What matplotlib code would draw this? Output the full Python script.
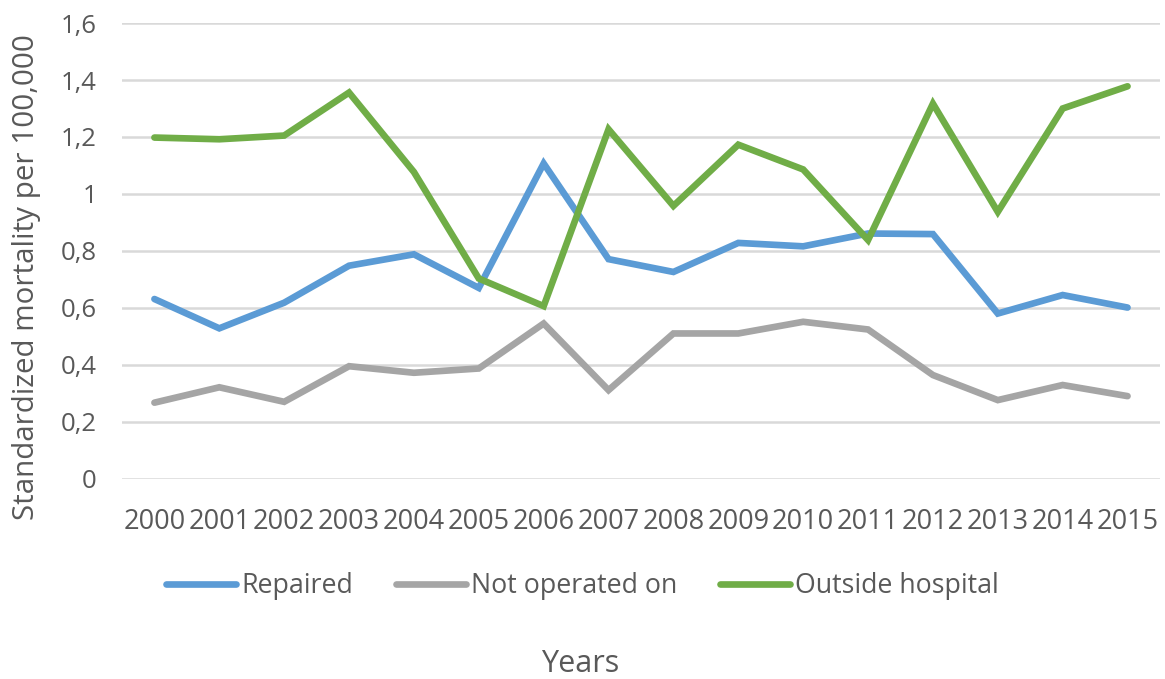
import matplotlib
matplotlib.use("Agg")
import matplotlib.pyplot as plt

# data
years = [str(y) for y in range(2000, 2016)]
repaired = [0.631, 0.528, 0.618, 0.748, 0.788, 0.670, 1.107, 0.771,
            0.726, 0.828, 0.816, 0.861, 0.859, 0.580, 0.645, 0.601]
not_operated = [0.267, 0.321, 0.270, 0.395, 0.372, 0.387, 0.545, 0.311,
                0.510, 0.510, 0.551, 0.524, 0.364, 0.276, 0.329, 0.290]
outside_hospital = [1.198, 1.192, 1.205, 1.356, 1.077, 0.703, 0.606, 1.227,
                    0.958, 1.173, 1.086, 0.838, 1.317, 0.937, 1.300, 1.378]
y_ticks = [0, 0.2, 0.4, 0.6, 0.8, 1.0, 1.2, 1.4, 1.6]
y_tick_labels = ["0", "0,2", "0,4", "0,6", "0,8", "1", "1,2", "1,4", "1,6"]

plt.rcParams["font.family"] = ["Open Sans", "DejaVu Sans"]
text_color = "#595959"

fig = plt.figure(figsize=(11.65, 6.79), dpi=100)
ax = fig.add_axes([0.1047, 0.295, 0.891, 0.671])

x = range(len(years))
ax.plot(x, repaired, color="#5B9BD5", lw=4.8, label="Repaired",
        solid_capstyle="round", solid_joinstyle="miter")
ax.plot(x, not_operated, color="#A5A5A5", lw=4.8, label="Not operated on",
        solid_capstyle="round", solid_joinstyle="miter")
ax.plot(x, outside_hospital, color="#70AD47", lw=4.8, label="Outside hospital",
        solid_capstyle="round", solid_joinstyle="miter")

ax.set_xlim(-0.5, len(years) - 0.5)
ax.set_ylim(0, 1.6)
ax.set_xticks(list(x))
ax.set_xticklabels(years)
ax.set_yticks(y_ticks)
ax.set_yticklabels(y_tick_labels)
ax.tick_params(axis="x", length=0, pad=21, labelsize=19.5, colors=text_color)
ax.tick_params(axis="y", length=0, pad=18, labelsize=18.5, colors=text_color)
ax.grid(axis="y", color="#D9D9D9", lw=1.8)
ax.set_axisbelow(True)
for s in ax.spines.values():
    s.set_visible(False)

fig.text(0.023, 0.592, "Standardized mortality per 100,000", rotation=90,
         ha="center", va="center", fontsize=21.3, color=text_color)
fig.text(0.498, 0.022, "Years", ha="center", va="center", fontsize=22,
         color=text_color)

leg = fig.legend(loc="center", bbox_to_anchor=(0.5, 1 - 586 / 679), ncol=3,
                 frameon=False, fontsize=19.3, handlelength=2.6,
                 handletextpad=0.2, columnspacing=1.6)
for t in leg.get_texts():
    t.set_color(text_color)

fig.savefig("out.png", dpi=100)
